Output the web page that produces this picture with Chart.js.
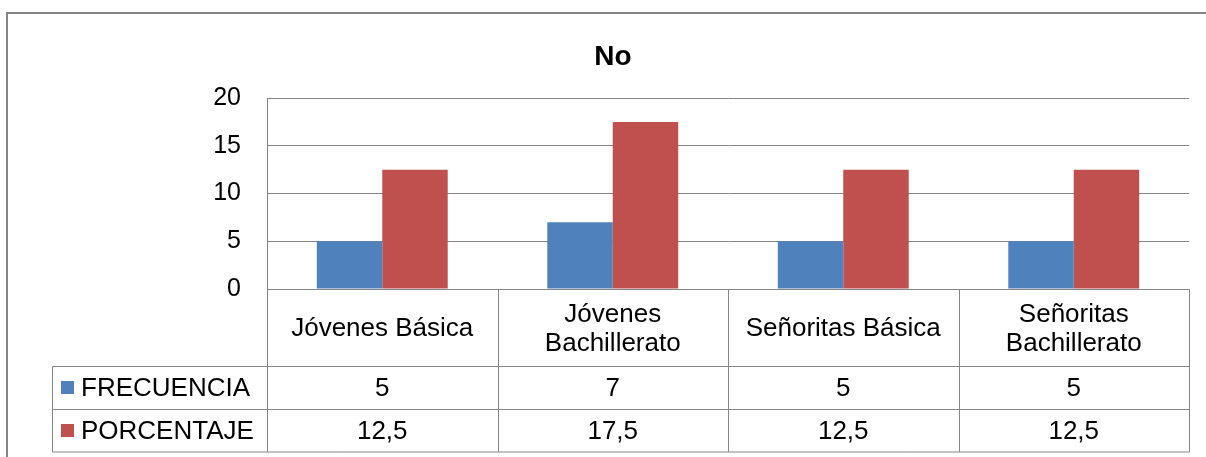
<!DOCTYPE html>
<html>
<head>
<meta charset="utf-8">
<script src="https://cdn.jsdelivr.net/npm/chart.js@4"></script>
<style>
  html, body { margin: 0; padding: 0; background: #ffffff; }
  canvas { display: block; }
</style>
</head>
<body>
<canvas id="c" width="1206" height="457"></canvas>
<script>
// ---- data ----
const chartTitle = 'No';
const categories = [['Jóvenes Básica'], ['Jóvenes', 'Bachillerato'], ['Señoritas Básica'], ['Señoritas', 'Bachillerato']];
const seriesNames = ['FRECUENCIA', 'PORCENTAJE'];
const frecuencia = [5, 7, 5, 5];
const porcentaje = [12.5, 17.5, 12.5, 12.5];
const yMin = 0, yMax = 20, yStep = 5;

const seriesColors = ['#4F81BD', '#C0504D'];
const seriesValues = [frecuencia, porcentaje];
const FONT = "'Liberation Sans', Arial, sans-serif";
const LINE = '#868686';

const fmt = v => String(v).replace('.', ',');

const tablePlugin = {
  id: 'dataTable',
  afterDraw(chart) {
    const ctx = chart.ctx;
    const { left, right, bottom } = chart.chartArea;
    const x = chart.scales.x;
    const n = categories.length;
    const legendLeft = 52.5;
    const catH = 77, rowH = 43;
    const y0 = Math.round(bottom) + 0.5;
    const y1 = y0 + catH;
    const y2 = y1 + rowH;
    const y3 = y2 + rowH - 0.5;

    // column boundaries from the x scale
    const bounds = [left];
    for (let i = 0; i < n - 1; i++) {
      bounds.push((x.getPixelForValue(i) + x.getPixelForValue(i + 1)) / 2);
    }
    bounds.push(right);
    const bx = bounds.map(b => Math.round(b) + 0.5);

    ctx.save();
    // outer chart border
    ctx.strokeStyle = LINE;
    ctx.lineWidth = 2;
    ctx.strokeRect(7, 13, 1400, 600);

    ctx.lineWidth = 1;
    ctx.strokeStyle = LINE;
    ctx.beginPath();
    // horizontal lines
    ctx.moveTo(bx[0], y0); ctx.lineTo(bx[n], y0);
    [y1, y2, y3].forEach(yy => { ctx.moveTo(legendLeft, yy); ctx.lineTo(bx[n], yy); });
    // vertical lines
    ctx.moveTo(legendLeft, y1); ctx.lineTo(legendLeft, y3);
    ctx.moveTo(bx[0], y0); ctx.lineTo(bx[0], y3);
    for (let i = 1; i <= n; i++) { ctx.moveTo(bx[i], y0); ctx.lineTo(bx[i], y3); }
    ctx.stroke();

    // category labels
    ctx.fillStyle = '#000';
    ctx.textAlign = 'center';
    ctx.textBaseline = 'middle';
    ctx.font = '26px ' + FONT;
    const lh = 29;
    categories.forEach((lines, i) => {
      const cx = (bounds[i] + bounds[i + 1]) / 2;
      const cy = (y0 + y1) / 2 + 1;
      const start = cy - (lines.length - 1) * lh / 2;
      lines.forEach((t, k) => ctx.fillText(t, cx, start + k * lh));
    });

    // series rows
    const rowTops = [y1, y2];
    seriesNames.forEach((name, s) => {
      const cy = rowTops[s] + rowH / 2;
      ctx.fillStyle = seriesColors[s];
      ctx.fillRect(61, Math.round(cy - 7.5), 13, 13);
      ctx.fillStyle = '#000';
      ctx.textAlign = 'left';
      ctx.font = '26px ' + FONT;
      ctx.fillText(name, 81, cy + 1);
      ctx.textAlign = 'center';
      seriesValues[s].forEach((v, i) => {
        const cx = (bounds[i] + bounds[i + 1]) / 2;
        ctx.fillText(fmt(v), cx, cy + 1);
      });
    });
    ctx.restore();
  }
};

Chart.defaults.font.family = FONT;

new Chart(document.getElementById('c'), {
  type: 'bar',
  data: {
    labels: categories,
    datasets: seriesNames.map((name, s) => ({
      label: name,
      data: seriesValues[s],
      backgroundColor: seriesColors[s],
      barPercentage: 1,
      categoryPercentage: 0.568
    }))
  },
  options: {
    responsive: false,
    animation: false,
    layout: { padding: { left: 37, right: 17, top: 0, bottom: 168 } },
    plugins: {
      legend: { display: false },
      tooltip: { enabled: false },
      title: {
        display: true,
        text: chartTitle,
        color: '#000',
        font: { size: 28, weight: 'bold', family: FONT },
        padding: { top: 40, bottom: 24.4 }
      }
    },
    scales: {
      x: { display: false },
      y: {
        min: yMin,
        max: yMax,
        ticks: { stepSize: yStep, color: '#000', font: { size: 25 }, padding: 26 },
        grid: { color: LINE, drawTicks: false },
        border: { display: true, color: LINE },
        afterFit(s) { s.width = 230; }
      }
    }
  },
  plugins: [tablePlugin]
});
</script>
</body>
</html>
